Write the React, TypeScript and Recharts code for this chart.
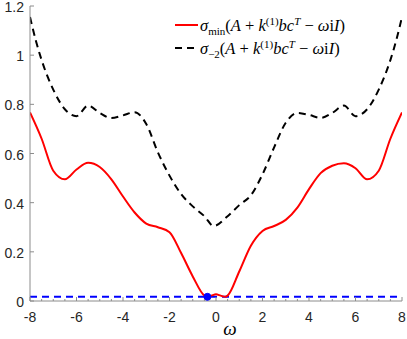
import {
  ComposedChart,
  Line,
  XAxis,
  YAxis,
  ReferenceDot,
} from 'recharts';

// omega grid + values
const redW = [-8, -7.5, -7, -6.5, -6, -5.5, -5, -4.5, -4, -3.5, -3, -2.5, -2, -1.5, -1, -0.5, -0.4, -0.2, 0, 0.2, 0.4, 0.5, 1, 1.5, 2, 2.5, 3, 3.5, 4, 4.5, 5, 5.5, 6, 6.5, 7, 7.5, 8];
const redV = [0.767, 0.66, 0.53, 0.495, 0.535, 0.562, 0.545, 0.495, 0.425, 0.36, 0.315, 0.3, 0.28, 0.195, 0.1, 0.022, 0.017, 0.022, 0.027, 0.022, 0.017, 0.022, 0.12, 0.225, 0.285, 0.305, 0.33, 0.38, 0.455, 0.52, 0.55, 0.56, 0.54, 0.495, 0.53, 0.66, 0.767];

const blackW = [-8, -7.75, -7.5, -7, -6.5, -6, -5.5, -5, -4.5, -4, -3.5, -3, -2.5, -2, -1.5, -1, -0.5, -0.1, 0.5, 1, 1.5, 2, 2.5, 3, 3.5, 4, 4.5, 5, 5.5, 6, 6.5, 7, 7.5, 7.75, 8];
const blackV = [1.155, 1.06, 0.98, 0.86, 0.78, 0.752, 0.795, 0.765, 0.744, 0.755, 0.768, 0.72, 0.605, 0.51, 0.435, 0.385, 0.345, 0.305, 0.345, 0.39, 0.43, 0.515, 0.625, 0.725, 0.765, 0.757, 0.745, 0.765, 0.795, 0.752, 0.78, 0.86, 0.98, 1.06, 1.155];

const blueW = [-8, 8];
const blueV = [0.017, 0.017];

const dotW = [-0.37];
const dotV = [0.017];

const xTicks = [-8, -7.5, -7, -6.5, -6, -5.5, -5, -4.5, -4, -3.5, -3, -2.5, -2, -1.5, -1, -0.5, 0, 0.5, 1, 1.5, 2, 2.5, 3, 3.5, 4, 4.5, 5, 5.5, 6, 6.5, 7, 7.5, 8];
const yTicks = [0, 0.2, 0.4, 0.6, 0.8, 1, 1.2];

const redData = redW.map((w, i) => ({ w, v: redV[i] }));
const blackData = blackW.map((w, i) => ({ w, v: blackV[i] }));
const blueData = blueW.map((w, i) => ({ w, v: blueV[i] }));

const AXIS = '#8c8c8c';
const LABEL = '#262626';
const SANS = '"Liberation Sans", Arial, Helvetica, sans-serif';
const SERIF = '"Liberation Serif", "Times New Roman", serif';

const isMajor = (v: number) => Math.abs(v % 2) < 1e-9;

function BottomTick({ x, y, payload }: any) {
  const major = isMajor(payload.value);
  return (
    <g>
      <line x1={x} x2={x} y1={y} y2={y - (major ? 4 : 2)} stroke={AXIS} />
      {major && (
        <text x={x} y={y + 21} textAnchor="middle" fontSize={14} fontFamily={SANS} fill={LABEL}>
          {payload.value}
        </text>
      )}
    </g>
  );
}

function TopTick({ x, y, payload }: any) {
  const major = isMajor(payload.value);
  return <line x1={x} x2={x} y1={y} y2={y + (major ? 4 : 2)} stroke={AXIS} />;
}

function LeftTick({ x, y, payload }: any) {
  return (
    <g>
      <line x1={x} x2={x + 4} y1={y} y2={y} stroke={AXIS} />
      <text x={x - 6} y={y + 6} textAnchor="end" fontSize={14} fontFamily={SANS} fill={LABEL}>
        {payload.value}
      </text>
    </g>
  );
}

function RightTick({ x, y }: any) {
  return <line x1={x} x2={x - 4} y1={y} y2={y} stroke={AXIS} />;
}

function LegendText({ x, y, sub }: { x: number; y: number; sub: 'min' | '-2' }) {
  return (
    <text x={x} y={y} fontSize={16.5} fontFamily={SERIF} fill="#000">
      <tspan fontStyle="italic">σ</tspan>
      <tspan fontSize={11} dy={4}>{sub === 'min' ? 'min' : '−2'}</tspan>
      <tspan dy={-4}>(</tspan>
      <tspan fontStyle="italic">A</tspan>
      <tspan> + </tspan>
      <tspan fontStyle="italic">k</tspan>
      <tspan fontSize={11} dy={-6}>(1)</tspan>
      <tspan fontStyle="italic" dy={6}>bc</tspan>
      <tspan fontStyle="italic" fontSize={11} dy={-6}>T</tspan>
      <tspan dy={6}> − </tspan>
      <tspan fontStyle="italic">ω</tspan>
      <tspan>i</tspan>
      <tspan fontStyle="italic">I</tspan>
      <tspan>)</tspan>
    </text>
  );
}

export default function App() {
  return (
    <div style={{ position: 'relative', width: 407, height: 339 }}>
      <style>{`body{margin:0}`}</style>
      <ComposedChart
        width={407}
        height={339}
        margin={{ top: 6, right: 5, left: 0, bottom: 0 }}
      >
        <XAxis
          xAxisId="b"
          dataKey="w"
          type="number"
          domain={[-8, 8]}
          ticks={xTicks}
          interval={0}
          height={38}
          tickSize={0}
          tickMargin={0}
          tickLine={false}
          axisLine={{ stroke: AXIS }}
          tick={<BottomTick />}
          allowDataOverflow
        />
        <XAxis
          xAxisId="t"
          orientation="top"
          type="number"
          domain={[-8, 8]}
          ticks={xTicks}
          interval={0}
          height={0}
          tickSize={0}
          tickMargin={0}
          tickLine={false}
          axisLine={{ stroke: AXIS }}
          tick={<TopTick />}
          allowDataOverflow
        />
        <YAxis
          yAxisId="l"
          type="number"
          domain={[0, 1.2]}
          ticks={yTicks}
          interval={0}
          width={30}
          tickSize={0}
          tickMargin={0}
          tickLine={false}
          axisLine={{ stroke: AXIS }}
          tick={<LeftTick />}
          allowDataOverflow
        />
        <YAxis
          yAxisId="r"
          orientation="right"
          type="number"
          domain={[0, 1.2]}
          ticks={yTicks}
          interval={0}
          width={0}
          tickSize={0}
          tickMargin={0}
          tickLine={false}
          axisLine={{ stroke: AXIS }}
          tick={<RightTick />}
          allowDataOverflow
        />
        <Line
          xAxisId="b"
          yAxisId="l"
          data={blueData}
          dataKey="v"
          type="linear"
          stroke="#0000ff"
          strokeWidth={2}
          strokeDasharray="7 5"
          dot={false}
          isAnimationActive={false}
        />
        <Line
          xAxisId="b"
          yAxisId="l"
          data={blackData}
          dataKey="v"
          type="monotone"
          stroke="#000000"
          strokeWidth={2}
          strokeDasharray="7 5"
          dot={false}
          isAnimationActive={false}
        />
        <Line
          xAxisId="b"
          yAxisId="l"
          data={redData}
          dataKey="v"
          type="monotone"
          stroke="#ff0000"
          strokeWidth={2}
          dot={false}
          isAnimationActive={false}
        />
        {dotW.map((w, i) => (
          <ReferenceDot
            key={i}
            xAxisId="b"
            yAxisId="l"
            x={w}
            y={dotV[i]}
            r={3.5}
            fill="#0000ff"
            stroke="#0000ff"
            ifOverflow="visible"
          />
        ))}
      </ComposedChart>
      <svg
        width={407}
        height={339}
        style={{ position: 'absolute', left: 0, top: 0, pointerEvents: 'none' }}
      >
        <line x1={175} x2={198} y1={25} y2={25} stroke="#ff0000" strokeWidth={2} />
        <LegendText x={200} y={31} sub="min" />
        <line x1={175} x2={198} y1={48} y2={48} stroke="#000" strokeWidth={2} strokeDasharray="7 5" />
        <LegendText x={200} y={54} sub="-2" />
        <text x={230} y={335} textAnchor="middle" fontSize={19} fontStyle="italic" fontFamily={SERIF} fill="#000">
          ω
        </text>
      </svg>
    </div>
  );
}
